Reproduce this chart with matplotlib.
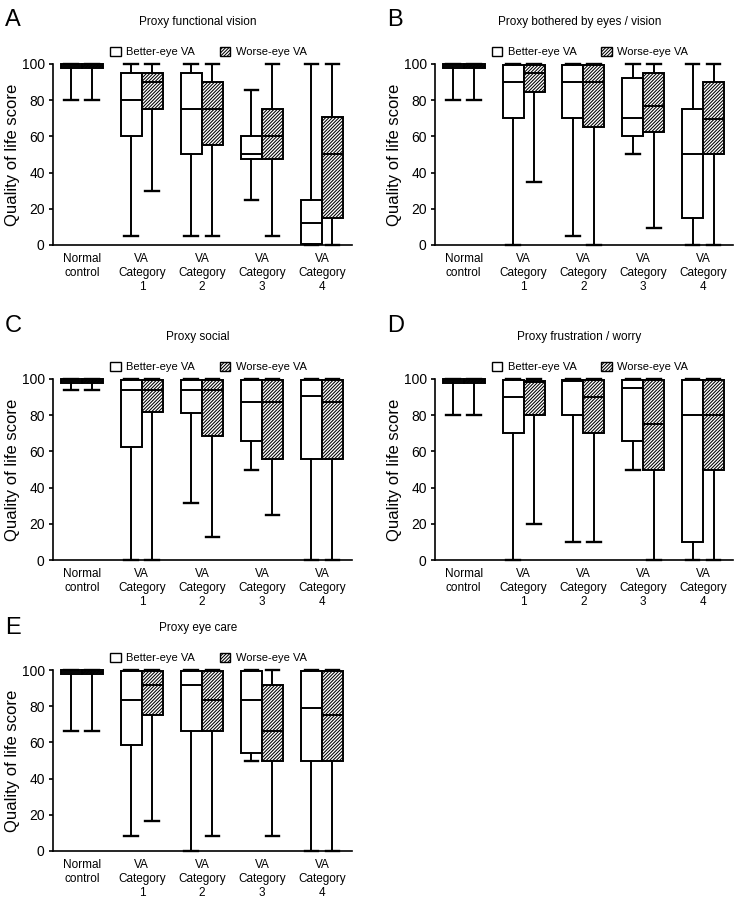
import matplotlib
matplotlib.use('Agg')
import matplotlib.pyplot as plt
from matplotlib.patches import Patch

plt.rcParams['font.family'] = ['Liberation Sans', 'DejaVu Sans']
plt.rcParams['hatch.linewidth'] = 0.75

# group labels along x
groups = ['Normal\ncontrol', 'VA\nCategory\n1', 'VA\nCategory\n2', 'VA\nCategory\n3', 'VA\nCategory\n4']

# each row: [whisker low, q1, median, q3, whisker high]
A_better = [[80, 98, 99, 100, 100], [5, 60, 80, 95, 100], [5, 50, 75, 95, 100],
            [25, 47.5, 50, 60, 85.5], [0, 0.5, 12, 25, 100]]
A_worse = [[80, 98, 99, 100, 100], [30, 75, 90, 95, 100], [5, 55, 75, 90, 100],
           [5, 47.5, 60, 75, 100], [0, 15, 50.5, 70.5, 100]]

B_better = [[80, 98, 99, 100, 100], [0, 70, 90, 99.5, 100], [5, 70, 90, 99.5, 100],
            [50, 60, 70, 92.5, 100], [0, 15, 50, 75, 100]]
B_worse = [[80, 98, 99, 100, 100], [35, 84.5, 95, 99.5, 100], [0, 65, 90, 99.5, 100],
           [9.5, 62.5, 77, 95, 100], [0, 50, 69.5, 90, 100]]

C_better = [[94, 98, 99, 100, 100], [0, 62.5, 94, 99.5, 100], [31.5, 81, 94, 99.5, 100],
            [50, 65.6, 87.5, 99.5, 100], [0, 56, 90.5, 99.5, 100]]
C_worse = [[94, 98, 99, 100, 100], [0, 81.5, 94, 99.5, 100], [12.5, 68.5, 94, 99.5, 100],
           [25, 56, 87.5, 99.5, 100], [0, 56, 87.5, 99.5, 100]]

D_better = [[80, 98, 99, 100, 100], [0, 70, 90, 99.5, 100], [10, 80, 99, 99.5, 100],
            [50, 65.5, 95, 99.5, 100], [0, 10, 80, 99.5, 100]]
D_worse = [[80, 98, 99, 100, 100], [20, 80, 98.5, 99, 100], [10, 70, 90, 99.5, 100],
           [0, 50, 75, 99.5, 100], [0, 50, 80, 99.5, 100]]

E_better = [[66.5, 98, 99, 100, 100], [8.3, 58.3, 83.3, 99.5, 100], [0, 66.5, 91.7, 99.5, 100],
            [50, 54, 83.3, 99.5, 100], [0, 50, 79.2, 99.5, 100]]
E_worse = [[66.5, 98, 99, 100, 100], [16.7, 75, 91.7, 99.5, 100], [8.3, 66.5, 83.3, 99.5, 100],
           [8.3, 50, 66.3, 91.7, 100], [0, 50, 75, 99.5, 100]]

panels = [
    ('A', 'Proxy functional vision', A_better, A_worse),
    ('B', 'Proxy bothered by eyes / vision', B_better, B_worse),
    ('C', 'Proxy social', C_better, C_worse),
    ('D', 'Proxy frustration / worry', D_better, D_worse),
    ('E', 'Proxy eye care', E_better, E_worse),
]

W, H = 739, 900
fig = plt.figure(figsize=(W / 100, H / 100), dpi=100)

# axes rectangles in pixels: left, right, top, bottom
rects = [(53, 352, 64, 245), (435, 733, 64, 245),
         (53, 352, 379, 560), (435, 733, 379, 560),
         (53, 352, 670, 851)]
letter_pos = [(5, 26), (387, 26), (5, 332), (387, 332), (5, 634)]


def stats_of(rows):
    out = []
    for lo, q1, med, q3, hi in rows:
        out.append(dict(whislo=lo, q1=q1, med=med, q3=q3, whishi=hi, fliers=[]))
    return out


bw = 0.35
lw = 1.4
hatch = '/' * 10
for (letter, title, better, worse), (l, r, t, b), (lx, ly) in zip(panels, rects, letter_pos):
    ax = fig.add_axes([l / W, 1 - b / H, (r - l) / W, (b - t) / H])
    pos = list(range(len(groups)))
    for rows, off, h in [(better, -bw / 2, None), (worse, bw / 2, hatch)]:
        res = ax.bxp(stats_of(rows), positions=[p + off for p in pos], widths=bw,
                     capwidths=0.23, patch_artist=True, showfliers=False,
                     boxprops=dict(facecolor='white', edgecolor='black', linewidth=lw, hatch=h),
                     medianprops=dict(color='black', linewidth=lw),
                     whiskerprops=dict(color='black', linewidth=lw),
                     capprops=dict(color='black', linewidth=1.7))
        for key in res:
            for art in res[key]:
                art.set_clip_on(False)
    ax.set_xlim(-0.48, 4.5)
    ax.set_ylim(0, 100)
    ax.set_yticks([0, 20, 40, 60, 80, 100])
    ax.set_xticks(pos)
    ax.set_xticklabels(groups, fontsize=8.5)
    ax.tick_params(axis='x', length=0, pad=6)
    ax.tick_params(axis='y', labelsize=10, length=3, width=1.2, pad=3)
    for s in ['top', 'right']:
        ax.spines[s].set_visible(False)
    for s in ['left', 'bottom']:
        ax.spines[s].set_linewidth(1.2)
    ax.set_ylabel('Quality of life score', fontsize=12, labelpad=1)
    ax.text(0.485, 1 + 42 / 181, title, transform=ax.transAxes, ha='center', va='center', fontsize=8.5)
    handles = [Patch(facecolor='white', edgecolor='black', linewidth=1),
               Patch(facecolor='white', edgecolor='black', linewidth=1, hatch=hatch)]
    ax.legend(handles, ['Better-eye VA', 'Worse-eye VA'], loc='center', bbox_to_anchor=(0.52, 1.066),
              ncol=2, frameon=False, fontsize=8, handlelength=0.95, handleheight=0.95,
              handletextpad=0.5, columnspacing=2.2, borderpad=0)
    fig.text(lx / W, 1 - ly / H, letter, fontsize=17, ha='left', va='baseline')

fig.savefig('out.png', dpi=100)
